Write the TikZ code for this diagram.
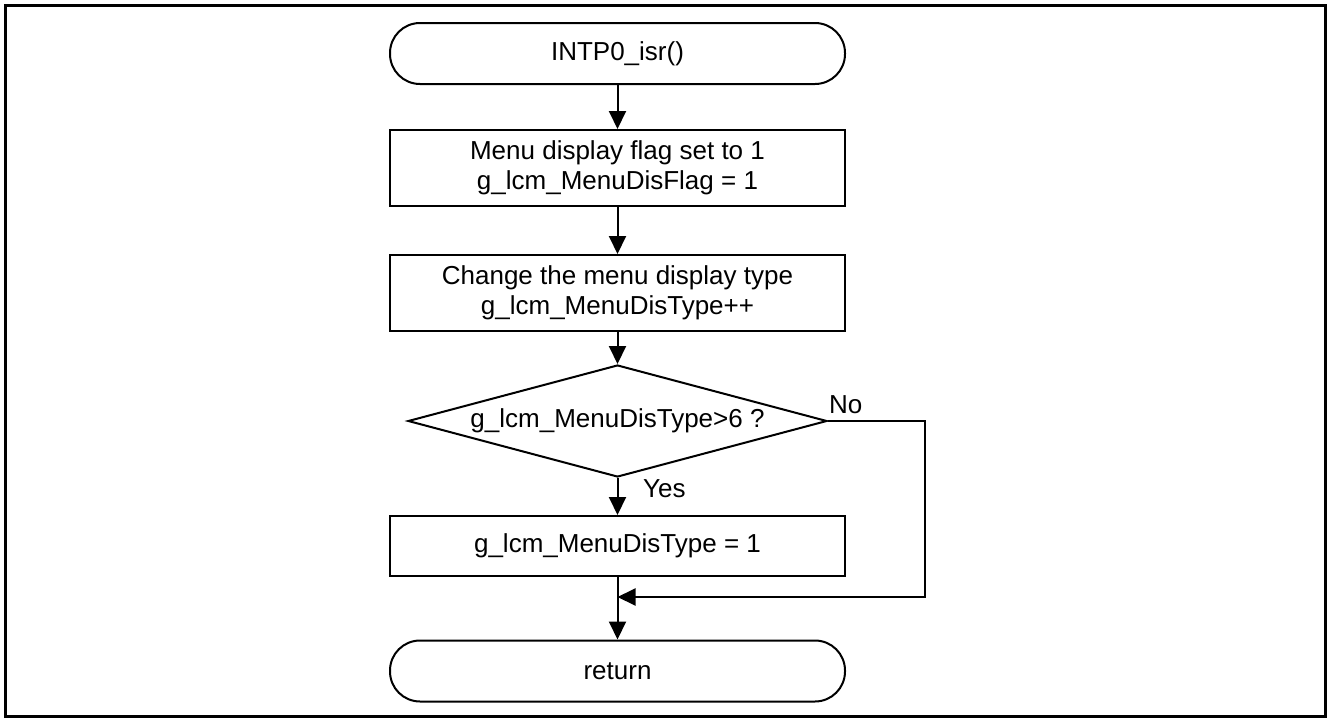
\documentclass[tikz,border=0pt]{standalone}
\usepackage{fontspec}
\setmainfont{Liberation Sans}
\usetikzlibrary{shapes.geometric,arrows.meta}
\begin{document}
\begin{tikzpicture}[x=1pt,y=-1pt,
  every node/.style={font=\fontsize{26}{30}\selectfont, inner sep=0pt},
  proc/.style={draw, line width=2pt, minimum width=455pt, align=center},
  term/.style={draw, line width=2pt, rounded corners=30pt, minimum width=455pt, minimum height=61pt},
  decision/.style={draw, diamond, aspect=3.75, line width=2pt, minimum width=419pt, minimum height=112pt},
  flow/.style={line width=2pt, -{Triangle[length=18pt,width=17pt]}},
  lbl/.style={anchor=base west},
]
  % page and outer frame
  \useasboundingbox (0,0) rectangle (1328,720);
  \draw[line width=3pt] (5,5) rectangle (1325.5,716.5);

  % flow steps
  \node[term] (start) at (617.5,53.5) {INTP0\_isr()};
  \node[proc, minimum height=76pt] (b1) at (617.5,168) {Menu display flag set to 1\\g\_lcm\_MenuDisFlag = 1};
  \node[proc, minimum height=76pt] (b2) at (617.5,293) {Change the menu display type\\g\_lcm\_MenuDisType++};
  \node[decision] (dec) at (617.5,421) {g\_lcm\_MenuDisType>6 ?};
  \node[proc, minimum height=60pt] (b3) at (617.5,546) {g\_lcm\_MenuDisType = 1};
  \node[term] (stop) at (617.5,671) {return};

  % bypass route
  \coordinate (rt) at (925,421);
  \coordinate (rb) at (925,597);
  \coordinate (mg) at (617.5,597);

  % connectors
  \draw[flow] (start.south) -- (b1.north);
  \draw[flow] (b1.south) -- (b2.north);
  \draw[flow] (b2.south) -- (dec.north);
  \draw[flow] (dec.south) -- (b3.north);
  \draw[flow] (b3.south) -- (stop.north);
  \draw[flow] (dec.east) -- (rt) -- (rb) -- (mg);

  % branch labels
  \node[lbl] (yes) at (643,497) {Yes};
  \node[lbl] (no) at (829,413) {No};
\end{tikzpicture}
\end{document}
